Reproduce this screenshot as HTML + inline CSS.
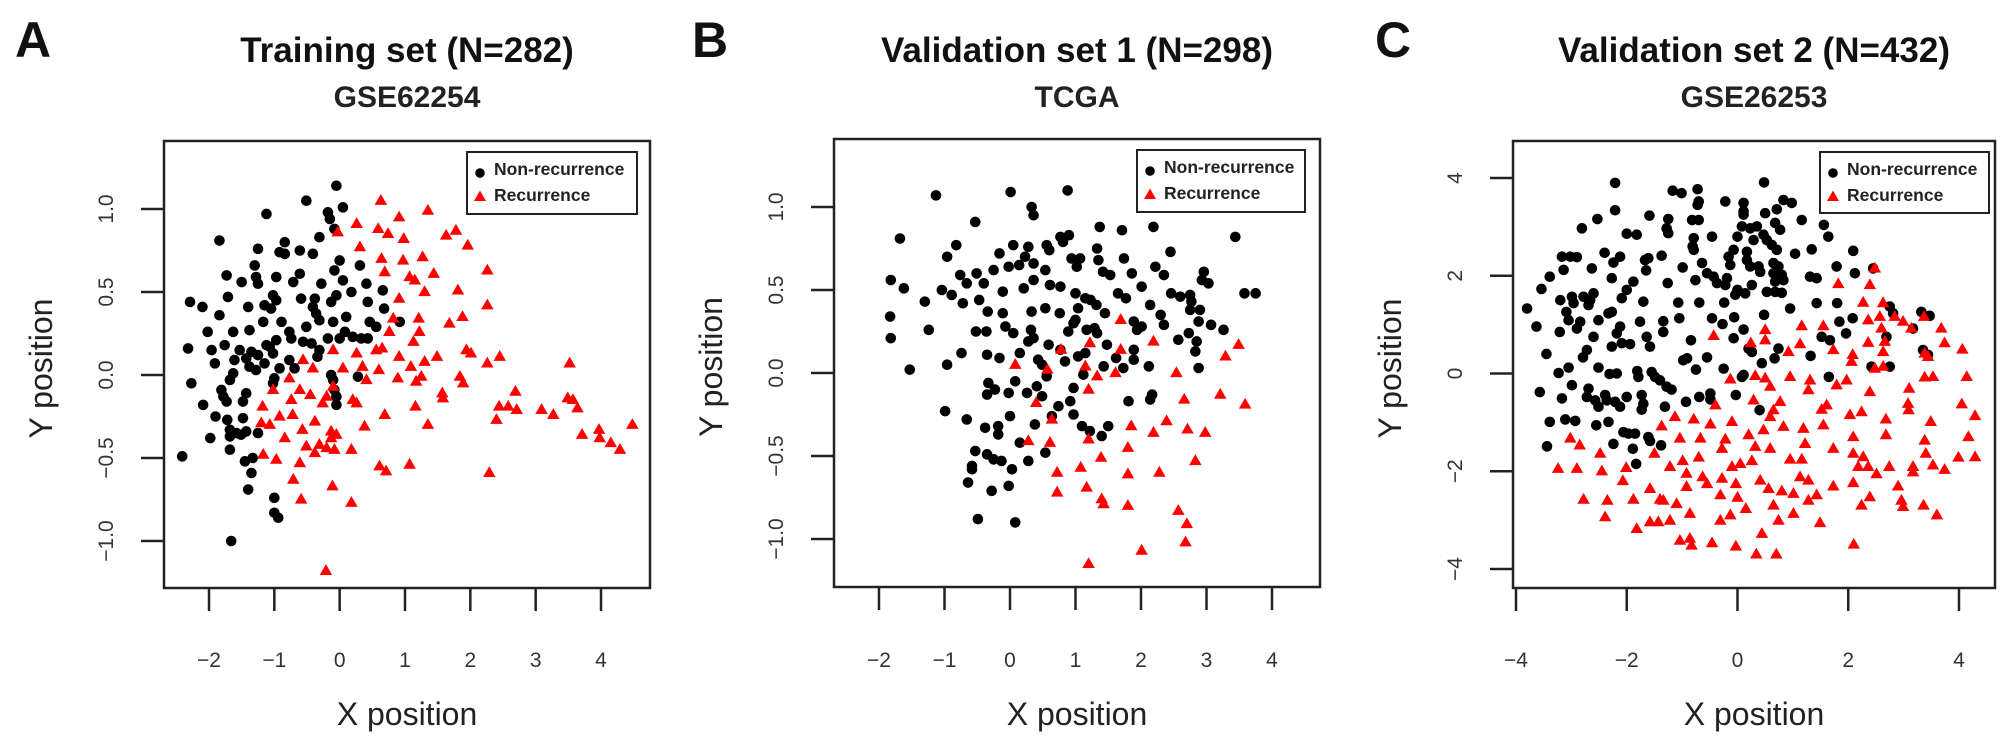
<!DOCTYPE html>
<html><head><meta charset="utf-8"><style>
html,body{margin:0;padding:0;background:#fff;}
svg{display:block;font-family:"Liberation Sans",Arial,sans-serif;}
</style></head><body>
<svg id="fig" width="2008" height="739" viewBox="0 0 2008 739" xmlns="http://www.w3.org/2000/svg"></svg>
<script>
// ---------- Data ----------
const panelTitles = ["Training set (N=282)", "Validation set 1 (N=298)", "Validation set 2 (N=432)"];
const panelSubtitles = ["GSE62254", "TCGA", "GSE26253"];
const panelLetters = ["A", "B", "C"];
const legendLabels = ["Non-recurrence", "Recurrence"];
const xTicksAB = [-2, -1, 0, 1, 2, 3, 4];
const xTickLabelsAB = ["\u22122", "\u22121", "0", "1", "2", "3", "4"];
const yTicksAB = [-1, -0.5, 0, 0.5, 1];
const yTickLabelsAB = ["\u22121.0", "\u22120.5", "0.0", "0.5", "1.0"];
const xTicksC = [-4, -2, 0, 2, 4];
const xTickLabelsC = ["\u22124", "\u22122", "0", "2", "4"];
const yTicksC = [-4, -2, 0, 2, 4];
const yTickLabelsC = ["\u22124", "\u22122", "0", "2", "4"];

const trainNonRec = [[-0.05,1.14],[-0.51,1.05],[0.05,1.01],[-1.12,0.97],[-0.18,0.98],[-0.15,0.94],[-0.08,0.88],[-0.31,0.83],[-1.84,0.81],[-1.25,0.76],[-0.84,0.80],[-0.92,0.74],[-0.84,0.73],[-0.61,0.75],[-0.41,0.73],[0,0.69],[-0.08,0.63],[0.31,0.66],[-1.3,0.66],[-1.73,0.60],[-1.28,0.59],[-1.25,0.55],[-0.97,0.59],[-0.61,0.61],[-0.71,0.56],[-1.5,0.56],[-0.28,0.55],[0.05,0.57],[0.41,0.55],[0.18,0.50],[0.66,0.51],[-1.71,0.47],[-1.02,0.48],[-0.97,0.45],[-0.59,0.46],[-0.05,0.48],[-0.13,0.44],[-0.38,0.46],[-0.41,0.41],[-0.36,0.37],[-0.31,0.33],[0.43,0.44],[-2.29,0.44],[-2.1,0.41],[-1.84,0.36],[-1.4,0.41],[-1.15,0.42],[-1.05,0.40],[0.68,0.40],[0.1,0.35],[-0.1,0.32],[0.46,0.32],[0.56,0.29],[0.92,0.32],[-1.17,0.32],[-0.89,0.32],[-0.51,0.29],[-2.02,0.26],[-1.63,0.26],[-1.38,0.27],[-0.77,0.26],[0.08,0.26],[0,0.22],[-0.18,0.22],[0.2,0.23],[0.33,0.22],[0.43,0.22],[-0.97,0.21],[-0.74,0.22],[-0.56,0.2],[-0.43,0.19],[-1.76,0.18],[-1.12,0.18],[-2.32,0.16],[-1.96,0.15],[-1.53,0.15],[-1.35,0.14],[-1.25,0.12],[-1.43,0.10],[-1.07,0.17],[-1.02,0.13],[-0.31,0.15],[-0.34,0.11],[-0.77,0.09],[-1.61,0.09],[-1.91,0.07],[-1.38,0.05],[-1.28,0.03],[-1.15,0.07],[-0.92,0.04],[-0.69,0.04],[-1.63,0.01],[-1.68,-0.03],[-1.0,-0.02],[-1.02,-0.05],[-0.13,0],[-0.1,-0.03],[0.28,-0.01],[-2.27,-0.05],[-1.81,-0.09],[-1.78,-0.13],[-1.73,-0.16],[-1.43,-0.11],[-1.48,-0.16],[-0.08,-0.09],[-0.05,-0.13],[-0.05,-0.18],[-2.09,-0.18],[-1.9,-0.25],[-1.72,-0.27],[-1.48,-0.26],[-1.68,-0.33],[-1.58,-0.35],[-1.43,-0.34],[-1.51,-0.36],[-1.25,-0.35],[-1.68,-0.37],[-1.98,-0.38],[-1.68,-0.45],[-2.41,-0.49],[-1.45,-0.52],[-1.33,-0.5],[-1.35,-0.59],[-1.4,-0.69],[-1.0,-0.74],[-1.0,-0.83],[-0.94,-0.86],[-1.66,-1.0]];
const trainRec = [[0.63,1.05],[1.35,0.99],[0.91,0.95],[0.26,0.91],[-0.03,0.86],[0.59,0.88],[0.74,0.85],[0.98,0.82],[1.78,0.87],[1.63,0.84],[1.96,0.78],[0.31,0.77],[0.64,0.70],[0.97,0.69],[1.27,0.71],[0.69,0.62],[1.44,0.61],[1.07,0.59],[1.15,0.57],[2.26,0.63],[1.3,0.5],[1.81,0.51],[0.91,0.46],[2.26,0.42],[0.82,0.34],[1.21,0.34],[1.88,0.35],[1.68,0.31],[0.76,0.26],[1.22,0.26],[1.13,0.20],[-0.1,0.15],[0.26,0.13],[0.56,0.15],[0.65,0.16],[1.94,0.15],[2.01,0.13],[-0.56,0.09],[-0.41,0.04],[0.91,0.11],[1.49,0.11],[1.3,0.08],[1.09,0.05],[2.26,0.07],[2.45,0.11],[3.52,0.07],[0.05,0.04],[0.35,0.05],[0.6,0.03],[-0.77,-0.02],[0.41,-0.03],[0.89,-0.02],[1.25,-0.01],[1.17,-0.04],[1.84,-0.01],[1.89,-0.05],[-1.02,-0.09],[-0.61,-0.09],[-0.45,-0.12],[-0.1,-0.07],[-0.2,-0.13],[-0.26,-0.17],[-0.74,-0.15],[0.2,-0.15],[0.26,-0.17],[1.57,-0.11],[1.58,-0.14],[2.69,-0.1],[3.49,-0.14],[3.57,-0.15],[3.64,-0.2],[-1.18,-0.19],[2.44,-0.19],[2.58,-0.19],[2.71,-0.21],[3.09,-0.21],[3.27,-0.24],[1.16,-0.19],[0.69,-0.24],[-0.92,-0.25],[-0.72,-0.24],[-1.2,-0.29],[-1.07,-0.3],[-0.38,-0.28],[2.4,-0.27],[1.35,-0.3],[0.38,-0.31],[4.48,-0.3],[-0.57,-0.33],[-0.13,-0.34],[-0.05,-0.36],[-0.13,-0.38],[3.97,-0.33],[3.71,-0.36],[3.98,-0.38],[4.15,-0.41],[4.29,-0.45],[-0.84,-0.38],[-0.51,-0.43],[-0.31,-0.42],[-0.2,-0.44],[-0.08,-0.45],[-0.38,-0.47],[0.18,-0.45],[-1.17,-0.48],[-0.97,-0.51],[-0.61,-0.53],[0.61,-0.55],[0.71,-0.58],[1.07,-0.54],[2.29,-0.59],[-0.71,-0.63],[-0.11,-0.67],[-0.59,-0.75],[0.18,-0.77],[-0.21,-1.18]];

const tcgaNonRec = [[-1.13,1.07],[0.01,1.09],[0.88,1.1],[0.33,1.0],[0.36,0.95],[-0.53,0.91],[-1.68,0.81],[-0.82,0.77],[-0.96,0.7],[1.37,0.88],[1.71,0.86],[2.19,0.88],[3.44,0.82],[0.77,0.82],[0.9,0.83],[0.81,0.79],[0.05,0.77],[0.28,0.76],[0.56,0.77],[0.6,0.74],[-0.16,0.72],[1.33,0.75],[2.45,0.73],[1.74,0.69],[0.23,0.7],[-0.02,0.64],[0.14,0.65],[-0.25,0.62],[0.36,0.66],[0.94,0.69],[1.07,0.69],[1.02,0.64],[1.35,0.68],[1.42,0.61],[1.53,0.59],[1.86,0.6],[2.22,0.64],[2.35,0.59],[2.96,0.61],[3.03,0.54],[2.93,0.56],[-0.76,0.59],[-0.51,0.6],[-0.66,0.54],[-0.4,0.54],[-1.82,0.56],[-1.62,0.51],[-1.04,0.5],[-0.89,0.47],[-0.72,0.42],[-1.3,0.43],[-0.11,0.49],[0.21,0.51],[0.36,0.56],[0.54,0.62],[0.61,0.53],[0.77,0.52],[1.0,0.48],[1.15,0.45],[1.23,0.44],[2.01,0.52],[1.65,0.48],[1.77,0.45],[2.46,0.48],[2.6,0.46],[2.75,0.47],[2.77,0.43],[3.58,0.48],[3.75,0.48],[-0.47,0.44],[-0.34,0.37],[-0.11,0.36],[0.33,0.37],[0.54,0.39],[0.76,0.36],[1.04,0.39],[1.0,0.32],[1.32,0.41],[1.45,0.36],[2.14,0.41],[2.3,0.35],[2.75,0.38],[2.9,0.38],[2.88,0.31],[-1.83,0.34],[-1.82,0.21],[-1.24,0.26],[-0.52,0.25],[-0.36,0.25],[-0.07,0.28],[0.05,0.24],[0.32,0.26],[0.36,0.21],[0.97,0.3],[0.89,0.25],[1.17,0.26],[1.29,0.27],[1.89,0.31],[1.94,0.26],[2.01,0.28],[2.35,0.29],[3.07,0.29],[3.26,0.26],[2.57,0.2],[2.73,0.24],[2.85,0.19],[2.83,0.13],[2.88,0.03],[-0.74,0.12],[-0.96,0.05],[-1.53,0.02],[-0.35,0.11],[-0.16,0.09],[0.15,0.12],[0.28,0.19],[0.43,0.08],[0.59,0.17],[0.77,0.14],[1.04,0.1],[1.15,0.12],[1.33,0.24],[1.48,0.17],[1.62,0.09],[1.89,0.14],[1.89,0.08],[2.12,0.04],[1.73,0.03],[1.43,0.04],[0.49,0.05],[0.84,0.07],[1.12,-0.01],[0.56,-0.02],[0.08,-0.05],[-0.33,-0.06],[-0.35,-0.13],[-0.23,-0.1],[-0.02,-0.12],[0.26,-0.12],[0.41,-0.08],[0.49,-0.14],[0.97,-0.09],[0.92,-0.17],[0.74,-0.2],[0.97,-0.25],[1.81,-0.17],[2.17,-0.13],[2.14,-0.16],[-0.99,-0.23],[-0.66,-0.28],[0,-0.26],[0.38,-0.31],[-0.38,-0.33],[-0.18,-0.32],[-0.18,-0.37],[0.64,-0.26],[1.1,-0.32],[1.22,-0.35],[1.5,-0.32],[1.4,-0.38],[0.15,-0.42],[0.28,-0.53],[0.54,-0.48],[-0.53,-0.47],[-0.35,-0.49],[-0.25,-0.52],[-0.13,-0.53],[0.03,-0.58],[-0.58,-0.56],[-0.58,-0.58],[-0.64,-0.66],[-0.28,-0.71],[-0.02,-0.68],[-0.49,-0.88],[0.08,-0.9]];
const tcgaRec = [[1.69,0.32],[2.19,0.19],[1.22,0.18],[0.78,0.14],[1.69,0.14],[3.49,0.17],[3.29,0.1],[0.08,0.05],[1.15,0.04],[0.57,0.02],[1.61,0],[1.33,-0.02],[2.54,0],[1.2,-0.1],[3.21,-0.13],[2.66,-0.16],[3.59,-0.19],[0.4,-0.18],[0.64,-0.28],[2.39,-0.29],[1.85,-0.32],[2.19,-0.36],[2.71,-0.34],[2.98,-0.36],[0.28,-0.41],[0.61,-0.42],[1.2,-0.4],[1.8,-0.45],[1.39,-0.51],[2.83,-0.53],[1.08,-0.57],[0.72,-0.6],[1.8,-0.61],[2.28,-0.6],[1.17,-0.69],[0.72,-0.72],[1.4,-0.76],[1.43,-0.79],[1.8,-0.8],[2.57,-0.83],[2.7,-0.91],[2.68,-1.02],[2.01,-1.07],[1.2,-1.15]];

const gseNonRec = [[-2.21,3.9],[0.48,3.91],[-1.17,3.74],[-1.01,3.69],[-0.72,3.77],[-0.7,3.52],[-0.72,3.45],[-0.22,3.52],[0.11,3.49],[0.11,3.32],[0.11,3.25],[0.83,3.55],[0.98,3.49],[0.71,3.36],[0.5,3.28],[-2.21,3.34],[-1.59,3.23],[-1.25,3.16],[-2.53,3.16],[-2.81,2.97],[-0.82,3.14],[-0.7,3.14],[1.16,3.14],[1.56,3.04],[1.64,2.8],[-1.28,2.97],[-1.25,2.87],[-2.0,2.86],[-1.82,2.84],[-0.79,2.77],[-0.81,2.6],[-0.79,2.53],[-0.46,2.8],[0,2.8],[0.08,3.01],[0.23,2.97],[0.35,3.01],[0.47,2.84],[0.53,2.73],[0.68,3.08],[0.77,2.94],[0.62,2.63],[0.71,2.53],[0.29,2.73],[0.17,2.49],[-0.07,2.53],[1.34,2.54],[1.04,2.45],[2.09,2.51],[-3.17,2.39],[-3.02,2.39],[-2.9,2.38],[-2.4,2.47],[-2.12,2.39],[-2.24,2.27],[-1.67,2.32],[-1.61,2.36],[-1.37,2.41],[-1.65,2.11],[-0.99,2.17],[-0.64,2.26],[-0.55,2.05],[-0.16,2.39],[-0.13,2.22],[0.17,2.32],[0.23,2.19],[0.38,2.19],[0.41,2.08],[0.65,2.26],[0.74,2.19],[0.65,2.05],[0.8,2.02],[0.83,1.91],[0.68,1.88],[1.79,2.19],[2.12,2.05],[2.45,2.15],[-3.14,2.12],[-3.39,1.98],[-3.54,1.73],[-2.63,2.15],[-2.27,1.95],[-2.0,1.71],[-1.88,1.88],[-1.26,1.85],[-0.76,1.91],[-0.43,1.98],[-0.37,1.85],[-0.22,1.81],[-0.19,1.95],[0,1.71],[0.14,1.64],[0.26,1.81],[0.53,1.67],[0.68,1.67],[0.8,1.65],[1.31,1.98],[1.43,1.95],[-3.2,1.5],[-2.99,1.57],[-2.96,1.44],[-2.78,1.57],[-2.66,1.5],[-2.6,1.64],[-2.69,1.4],[-2.09,1.54],[-1.7,1.47],[-1.07,1.45],[-0.69,1.45],[-0.24,1.45],[-0.04,1.61],[1.43,1.44],[1.8,1.44],[0.95,1.33],[-3.8,1.33],[-3.09,1.26],[-3.05,1.09],[-2.33,1.23],[-2.27,1.26],[-2.51,1.09],[-2.84,1.06],[-2.9,0.92],[-2.12,0.96],[-2.18,0.82],[-1.76,1.06],[-1.34,1.07],[-1.34,0.85],[-1.05,1.13],[-0.46,1.13],[-0.27,1.01],[-0.06,1.15],[0.11,0.9],[0.48,1.2],[1.84,1.06],[1.96,0.82],[2.08,1.13],[2.75,1.37],[2.81,1.23],[3.32,1.26],[3.47,1.18],[3.17,0.92],[1.52,0.75],[1.67,0.68],[2.69,0.75],[-3.63,0.96],[-3.21,0.85],[-2.6,0.75],[-2.72,0.48],[-2.79,0.33],[-2.27,0.55],[-2.09,0.62],[-1.94,0.6],[-1.64,0.75],[-1.58,0.55],[-0.84,0.68],[-0.91,0.31],[-0.98,0.27],[-0.55,0.33],[-0.07,0.72],[0.2,0.51],[0.26,0.44],[0.44,0.21],[0.67,0.31],[0.74,0.51],[1.32,0.36],[3.35,0.48],[3.44,0.38],[2.42,0.14],[2.75,0.14],[-3.45,0.4],[-3.23,0.01],[-3.05,0.12],[-2.51,0.12],[-2.31,-0.01],[-2.18,0],[-1.81,0.05],[-1.79,-0.07],[-1.55,0.03],[-1.49,-0.07],[-1.4,-0.14],[-1.28,-0.27],[-1.19,-0.33],[-0.75,0.08],[-0.25,0.1],[0.08,-0.07],[0.11,-0.03],[1.65,-0.07],[-2.99,-0.24],[-3.57,-0.38],[-3.17,-0.51],[-2.69,-0.31],[-2.72,-0.48],[-2.57,-0.55],[-2.39,-0.44],[-2.51,-0.68],[-2.36,-0.55],[-2.21,-0.58],[-2.12,-0.68],[-2.0,-0.48],[-1.73,-0.44],[-1.7,-0.62],[-1.73,-0.74],[-1.31,-0.68],[-0.93,-0.58],[-0.69,-0.48],[-0.49,-0.41],[-0.49,-0.53],[-0.03,-0.44],[0.4,-0.75],[-3.39,-0.99],[-3.11,-0.94],[-2.93,-0.97],[-2.55,-1.06],[-2.33,-0.99],[-2.06,-1.2],[-1.97,-1.23],[-1.85,-1.23],[-1.61,-1.3],[-1.58,-1.38],[-1.38,-1.47],[-2.24,-1.44],[-1.89,-1.54],[-3.44,-1.49],[-1.83,-1.85]];
const gseRec = [[2.48,2.15],[1.82,1.83],[2.39,1.81],[2.27,1.45],[2.63,1.44],[2.36,1.09],[2.57,1.16],[2.84,1.16],[2.99,1.06],[2.6,0.92],[3.14,0.92],[3.68,0.92],[3.37,1.16],[1.16,0.97],[1.55,0.97],[0.5,0.89],[0.5,0.68],[-0.43,0.77],[0.24,0.62],[1.13,0.6],[1.73,0.48],[2.36,0.63],[2.66,0.65],[3.74,0.62],[4.06,0.49],[0.92,0.44],[2.08,0.38],[2.06,0.24],[3.38,0.41],[3.44,0.34],[2.63,0.44],[2.48,0.1],[2.63,0.14],[-0.13,-0.12],[0.32,-0.05],[0.5,-0.1],[0.95,-0.07],[1.31,-0.14],[1.28,-0.34],[1.79,-0.24],[1.97,-0.14],[3.38,-0.08],[3.53,-0.07],[4.14,-0.07],[0.59,-0.27],[3.1,-0.31],[2.39,-0.38],[0.29,-0.55],[0.77,-0.58],[-0.4,-0.65],[1.61,-0.65],[1.52,-0.74],[3.08,-0.62],[3.09,-0.75],[4.05,-0.63],[0.65,-0.75],[0.59,-0.89],[2.03,-0.85],[2.24,-0.79],[4.29,-0.87],[-1.13,-0.89],[-1.37,-1.08],[-0.79,-0.94],[-0.49,-1.04],[-0.1,-0.99],[0.2,-1.26],[0.47,-1.16],[0.83,-1.09],[1.19,-1.13],[1.55,-1.06],[2.68,-0.94],[3.49,-0.99],[-3.02,-1.33],[-2.85,-1.47],[-1.04,-1.33],[-0.67,-1.33],[-0.22,-1.35],[-0.28,-1.54],[0.32,-1.5],[0.59,-1.54],[1.22,-1.44],[1.73,-1.54],[2.09,-1.3],[2.68,-1.26],[3.38,-1.37],[4.17,-1.3],[-2.48,-1.64],[-1.5,-1.64],[-0.99,-1.79],[-0.92,-2.05],[-0.7,-1.72],[0.05,-1.85],[-0.1,-1.91],[0.26,-1.79],[0.95,-1.76],[1.16,-1.76],[2.09,-1.64],[2.27,-1.71],[3.4,-1.64],[4.29,-1.71],[3.99,-1.72],[-3.24,-1.95],[-2.9,-1.95],[-2.45,-2.0],[-2.01,-1.93],[-1.22,-1.91],[-0.63,-2.12],[-0.28,-2.15],[0.41,-2.19],[1.13,-2.12],[1.28,-2.19],[2.18,-1.91],[2.36,-1.91],[2.74,-1.91],[2.51,-2.06],[3.17,-1.91],[3.17,-2.02],[3.53,-1.88],[3.74,-1.97],[-2.07,-2.2],[-1.58,-2.36],[-0.92,-2.32],[-0.55,-2.26],[-0.03,-2.26],[0.56,-2.36],[0.8,-2.41],[1.01,-2.46],[1.73,-2.31],[2.09,-2.24],[2.9,-2.31],[-2.78,-2.58],[-2.35,-2.6],[-1.88,-2.58],[-1.4,-2.58],[-1.34,-2.6],[-1.1,-2.67],[-0.31,-2.49],[0,-2.54],[0.65,-2.7],[1.01,-2.87],[1.28,-2.6],[1.43,-2.49],[2.39,-2.53],[2.24,-2.7],[2.96,-2.6],[2.99,-2.73],[3.36,-2.7],[3.6,-2.9],[-2.39,-2.94],[-0.86,-2.87],[-0.31,-3.01],[-0.13,-2.9],[0.15,-2.77],[0.74,-3.01],[1.49,-3.06],[-1.82,-3.18],[-1.58,-3.04],[-1.43,-3.04],[-1.22,-3.01],[0.44,-3.28],[-1.04,-3.42],[-0.86,-3.38],[-0.83,-3.52],[-0.46,-3.47],[-0.03,-3.54],[0.34,-3.7],[0.7,-3.7],[2.1,-3.5]];

// ---------- Rendering ----------
const NS = "http://www.w3.org/2000/svg";
const svg = document.getElementById("fig");
function mk(tag, attrs, parent) {
  const e = document.createElementNS(NS, tag);
  for (const k in attrs) e.setAttribute(k, attrs[k]);
  (parent || svg).appendChild(e);
  return e;
}
function linScale(v0, p0, v1, p1) { return v => p0 + (v - v0) * (p1 - p0) / (v1 - v0); }

const panels = [
  {box:[164,141,650,588], xs:linScale(-2,209,4,601), ys:linScale(1,209,-1,541),
   xt:xTicksAB, xl:xTickLabelsAB, yt:yTicksAB, yl:yTickLabelsAB, nr:trainNonRec, r:trainRec, leg:[467,152,637,214], letterX:15},
  {box:[834,139,1320,587], xs:linScale(-2,879,4,1272), ys:linScale(1,207,-1,539),
   xt:xTicksAB, xl:xTickLabelsAB, yt:yTicksAB, yl:yTickLabelsAB, nr:tcgaNonRec, r:tcgaRec, leg:[1137,150,1305,212], letterX:692},
  {box:[1513,141,1995,588], xs:linScale(-4,1516,4,1959), ys:linScale(4,178,-4,569),
   xt:xTicksC, xl:xTickLabelsC, yt:yTicksC, yl:yTickLabelsC, nr:gseNonRec, r:gseRec, leg:[1820,152,1989,213], letterX:1375}
];

function tri(g, cx, cy, s) {
  const h = s * 0.866;
  const p = mk("polygon", {points:`${cx},${cy - h*0.62} ${cx - s/2},${cy + h*0.38} ${cx + s/2},${cy + h*0.38}`, fill:"#ff0000"}, g);
  return p;
}

panels.forEach((P, i) => {
  const [l,t,r,b] = P.box;
  const cx = (l + r) / 2;
  const g = mk("g", {});
  
  

  const letter = mk("text", {x:P.letterX, y:57, "font-size":50, "font-weight":"bold", fill:"#111"}, g);
  letter.textContent = panelLetters[i];
  
  

  const title = mk("text", {x:cx, y:62, "font-size":35, "font-weight":"bold", "text-anchor":"middle", fill:"#111"}, g);
  title.textContent = panelTitles[i];
  
  

  const sub = mk("text", {x:cx, y:107, "font-size":30, "font-weight":"bold", "text-anchor":"middle", fill:"#222"}, g);
  sub.textContent = panelSubtitles[i];
  
  

  // points
  const pts = mk("g", {}, g);
  
  
  P.nr.forEach(d => {
    const c = mk("circle", {cx:P.xs(d[0]), cy:P.ys(d[1]), r:5.3, fill:"#000"}, pts);
    
    
  });
  P.r.forEach(d => {
    const p = tri(pts, P.xs(d[0]), P.ys(d[1]), 12.5);
    
    
  });

  // box
  const frame = mk("rect", {x:l, y:t, width:r-l, height:b-t, fill:"none", stroke:"#222", "stroke-width":2.5}, g);
  
  

  // x axis
  const xa = mk("g", {}, g);
  
  
  P.xt.forEach((v, k) => {
    const x = P.xs(v);
    const tk = mk("line", {x1:x, y1:b, x2:x, y2:b+23, stroke:"#222", "stroke-width":2.5}, xa);
    
    
    const tl = mk("text", {x:x, y:667, "font-size":21, "text-anchor":"middle", fill:"#333"}, xa);
    tl.textContent = P.xl[k];
    
    
  });
  const xt = mk("text", {x:cx, y:725, "font-size":32, "text-anchor":"middle", fill:"#222"}, xa);
  xt.textContent = "X position";
  
  

  // y axis
  const ya = mk("g", {}, g);
  
  
  P.yt.forEach((v, k) => {
    const y = P.ys(v);
    const tk = mk("line", {x1:l-23, y1:y, x2:l, y2:y, stroke:"#222", "stroke-width":2.5}, ya);
    
    
    const lx = l - 51;
    const tl = mk("text", {x:lx, y:y, "font-size":21, "text-anchor":"middle", fill:"#333", transform:`rotate(-90 ${lx} ${y})`}, ya);
    tl.textContent = P.yl[k];
    
    
  });
  const yx = l - 112, yy = (t + b) / 2 + 4;
  const yt = mk("text", {x:yx, y:yy, "font-size":32, "text-anchor":"middle", fill:"#222", transform:`rotate(-90 ${yx} ${yy})`}, ya);
  yt.textContent = "Y position";
  
  

  // legend
  const [ll, lt, lr, lb] = P.leg;
  const lg = mk("g", {}, g);
  
  
  mk("rect", {x:ll, y:lt, width:lr-ll, height:lb-lt, fill:"#fff", stroke:"#222", "stroke-width":2}, lg);
  const e1 = mk("g", {}, lg);
  
  
  mk("circle", {cx:ll+13, cy:lt+21, r:4.8, fill:"#000"}, e1);
  const t1 = mk("text", {x:ll+27, y:lt+23, "font-size":17.5, "font-weight":"bold", fill:"#222"}, e1);
  t1.textContent = legendLabels[0];
  const e2 = mk("g", {}, lg);
  
  
  tri(e2, ll+13, lt+45, 12);
  const t2 = mk("text", {x:ll+27, y:lt+49, "font-size":17.5, "font-weight":"bold", fill:"#222"}, e2);
  t2.textContent = legendLabels[1];
});
</script>
</body></html>
